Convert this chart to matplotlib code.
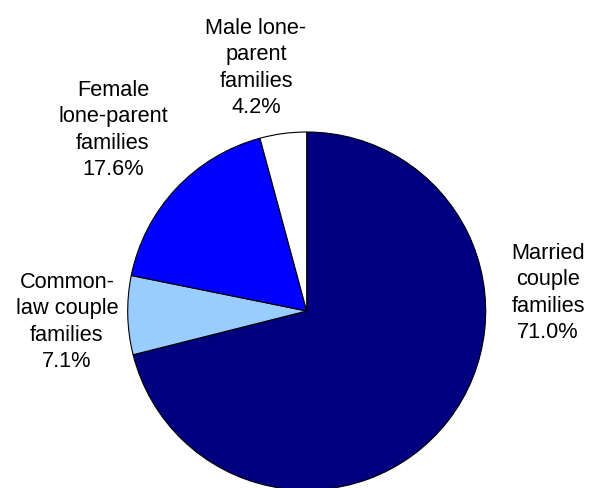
import matplotlib
matplotlib.use("Agg")
import matplotlib.pyplot as plt

categories = ["Married couple families", "Common-law couple families",
              "Female lone-parent families", "Male lone-parent families"]
values = [71.0, 7.1, 17.6, 4.2]
label_texts = ["Married\ncouple\nfamilies\n71.0%",
               "Common-\nlaw couple\nfamilies\n7.1%",
               "Female\nlone-parent\nfamilies\n17.6%",
               "Male lone-\nparent\nfamilies\n4.2%"]
colors = ["#000080", "#99CCFF", "#0000FF", "#FFFFFF"]
label_pos = [(548, 293), (67, 322), (113, 130), (256, 68)]

plt.rcParams['font.family'] = ['Liberation Sans', 'DejaVu Sans']

W, H = 596, 489
fig = plt.figure(figsize=(W / 100, H / 100), dpi=100)
ax = fig.add_axes([0, 0, 1, 1])
ax.pie(values, colors=colors, startangle=90, counterclock=False,
       center=(306.7, H - 312), radius=179,
       wedgeprops=dict(edgecolor="black", linewidth=0.8), frame=True)
ax.set_xlim(0, W)
ax.set_ylim(0, H)
ax.set_aspect('equal')
ax.set_axis_off()

for txt, (x, y) in zip(label_texts, label_pos):
    ax.text(x, H - y, txt, ha='center', va='center', multialignment='center',
            fontsize=15.7, linespacing=1.33, color='black')

fig.savefig("out.png", dpi=100)
